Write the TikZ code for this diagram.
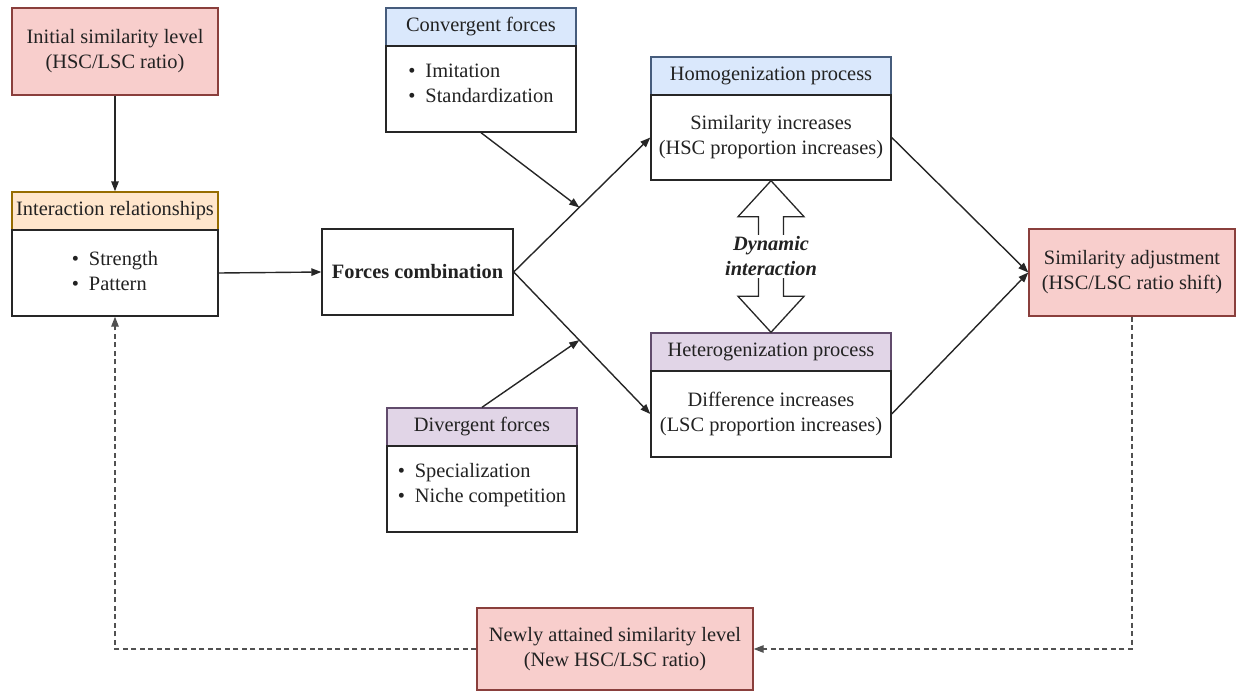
\documentclass[tikz,border=0pt]{standalone}
\usepackage{fontspec}
\setmainfont{LiberationSerif}[Extension=.ttf, UprightFont=*-Regular, BoldFont=*-Bold, ItalicFont=*-Italic, BoldItalicFont=*-BoldItalic]
\usetikzlibrary{arrows.meta,calc}

\definecolor{pinkfill}{HTML}{F8CECC}
\definecolor{pinkdraw}{HTML}{B85450}
\definecolor{orangefill}{HTML}{FFE6CC}
\definecolor{orangedraw}{HTML}{D79B00}
\definecolor{bluefill}{HTML}{DAE8FC}
\definecolor{bluedraw}{HTML}{6C8EBF}
\definecolor{purplefill}{HTML}{E1D5E7}
\definecolor{purpledraw}{HTML}{9673A6}
\definecolor{inkcol}{HTML}{222222}
\definecolor{edgecol}{HTML}{262626}

\newcommand{\itm}{\makebox[17pt][l]{\textbullet}}

\begin{document}
\begin{tikzpicture}[x=1pt,y=-1pt,
  every node/.style={font=\rmfamily\fontsize{20.4}{25}\selectfont, text=inkcol, inner sep=0pt, align=center},
  box/.style={draw=edgecol, line width=1.4pt, rectangle, fill=white},
  keybox/.style={box, fill=pinkfill, draw=pinkdraw!75!black},
  orangehead/.style={box, fill=orangefill, draw=orangedraw!70!black},
  bluehead/.style={box, fill=bluefill, draw=bluedraw!65!black},
  purplehead/.style={box, fill=purplefill, draw=purpledraw!65!black},
  conn/.style={draw=edgecol, line width=1.4pt, -{Triangle[length=10pt,width=7.5pt]}},
  feedback/.style={conn, draw=edgecol!80, dash pattern=on 5pt off 3.5pt}
]
\useasboundingbox (0,0) rectangle (1238,696);

% starting level
\node[keybox, minimum width=206pt, minimum height=87pt] (init) at (115,51.5)
  {Initial similarity level\\(HSC/LSC ratio)};

% interaction relationships
\node[orangehead, minimum width=206pt, minimum height=38pt] (ihead) at (115,211)
  {Interaction relationships};
\node[box, minimum width=206pt, minimum height=86pt] (ibody) at (115,273)
  {\begin{tabular}{@{}l@{}}\itm Strength\\\itm Pattern\end{tabular}};

% combination of forces
\node[box, minimum width=191pt, minimum height=86pt, font=\rmfamily\fontsize{20.4}{25}\selectfont\bfseries] (fc) at (417.5,272)
  {Forces combination};

% convergent forces
\node[bluehead, minimum width=190pt, minimum height=38pt] (chead) at (481,27)
  {Convergent forces};
\node[box, minimum width=190pt, minimum height=86pt] (cbody) at (481,89)
  {\begin{tabular}{@{}l@{}}\itm Imitation\\\itm Standardization\\[8pt]\end{tabular}};

% divergent forces
\node[purplehead, minimum width=190pt, minimum height=38pt] (dhead) at (482,427)
  {Divergent forces};
\node[box, minimum width=190pt, minimum height=86pt] (dbody) at (482,489)
  {\begin{tabular}{@{}l@{}}\itm Specialization\\\itm Niche competition\\[8pt]\end{tabular}};

% homogenization
\node[bluehead, minimum width=240pt, minimum height=38pt] (hhead) at (771,76)
  {Homogenization process};
\node[box, minimum width=240pt, minimum height=85pt] (hbody) at (771,137.5)
  {Similarity increases\\(HSC proportion increases)};

% heterogenization
\node[purplehead, minimum width=240pt, minimum height=38pt] (ehead) at (771,352)
  {Heterogenization process};
\node[box, minimum width=240pt, minimum height=86pt] (ebody) at (771,414)
  {Difference increases\\(LSC proportion increases)};

% outcome
\node[keybox, minimum width=206pt, minimum height=87pt] (sadj) at (1132,272.5)
  {Similarity adjustment\\(HSC/LSC ratio shift)};

% new level
\node[keybox, minimum width=276pt, minimum height=82pt] (newl) at (615,649)
  {Newly attained similarity level\\(New HSC/LSC ratio)};

% main flow
\draw[conn] (init.south) -- (ihead.north);
\draw[conn] (ibody.east) -- (fc.west);
\draw[conn] (fc.east) -- (hbody.west);
\draw[conn] (fc.east) -- (ebody.west);
\coordinate (mup) at ($(fc.east)!0.48!(hbody.west)$);
\coordinate (mdn) at ($(fc.east)!0.48!(ebody.west)$);
\draw[conn] (cbody.south) -- (mup);
\draw[conn] (dhead.north) -- (mdn);
\draw[conn] (hbody.east) -- (sadj.west);
\draw[conn] (ebody.east) -- (sadj.west);

% two-way hollow arrow between the processes
\coordinate (dt) at (hbody.south);
\coordinate (db) at (ehead.north);
\draw[edgecol, line width=1.3pt, fill=white, line join=miter]
  (dt) -- ($(dt)+(33,36)$) -- ($(dt)+(12.5,36)$) -- ($(db)+(12.5,-36)$)
  -- ($(db)+(33,-36)$) -- (db) -- ($(db)+(-33,-36)$) -- ($(db)+(-12.5,-36)$)
  -- ($(dt)+(-12.5,36)$) -- ($(dt)+(-33,36)$) -- cycle;
\node[fill=white, inner xsep=2pt, inner ysep=1.5pt, font=\rmfamily\fontsize{20.4}{25}\selectfont\bfseries\itshape] (dyn)
  at ($(dt)!0.5!(db)$) {Dynamic\\interaction};

% feedback loop
\draw[feedback] (sadj.south) |- (newl.east);
\draw[feedback] (newl.west) -| (ibody.south);
\end{tikzpicture}
\end{document}
